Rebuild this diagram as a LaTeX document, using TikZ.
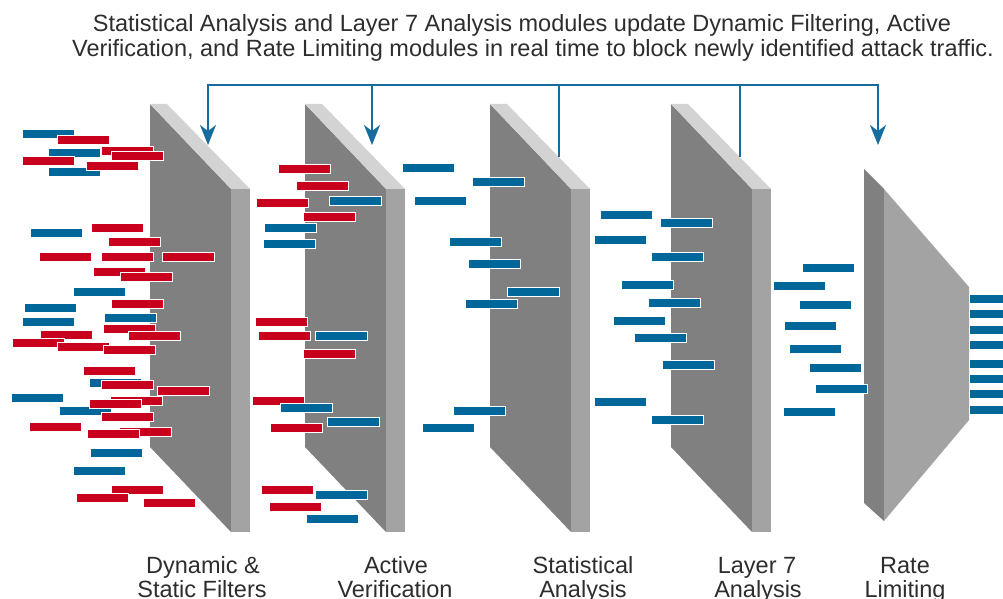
\documentclass[tikz,border=0pt]{standalone}
\usepackage{fontspec}
\setmainfont{Liberation Sans}
\usetikzlibrary{arrows.meta}
\definecolor{barred}{RGB}{200,0,30}
\definecolor{barblue}{RGB}{0,103,154}
\definecolor{linkblue}{RGB}{22,108,156}
\definecolor{facedark}{RGB}{128,128,128}
\definecolor{facebevel}{RGB}{211,211,211}
\definecolor{faceside}{RGB}{163,163,163}
\definecolor{txt}{RGB}{45,45,45}
\begin{document}
\begin{tikzpicture}[x=1pt,y=-1pt,
  redbar/.style={fill=barred,draw=white,line width=0.5pt},
  bluebar/.style={fill=barblue,draw=white,line width=0.5pt},
  darkface/.style={fill=facedark},
  bevelface/.style={fill=facebevel},
  sideface/.style={fill=faceside},
  link/.style={draw=linkblue,line width=2pt,line join=miter},
  tip/.style={-{Stealth[length=20pt,width=16pt,inset=6pt]}},
  txtstyle/.style={text=txt,font=\fontsize{23.5}{25}\selectfont,inner sep=0pt,anchor=base}]
\useasboundingbox (0,0) rectangle (1003,599);
% ---------- panels ----------
\foreach \L in {150,305,490,671}{
  \fill[darkface] (\L,104) -- (\L+81,189) -- (\L+81,532) -- (\L,447) -- cycle;
  \fill[bevelface] (\L,104) -- (\L+17,104) -- (\L+100,189) -- (\L+81,189) -- cycle;
  \fill[sideface] (\L+81,189) -- (\L+100,189) -- (\L+100,532) -- (\L+81,532) -- cycle;
}
% rate limiting funnel
\fill[darkface] (864,169) -- (884,189) -- (884,521) -- (864,503) -- cycle;
\fill[sideface] (884,189) -- (969,287) -- (969,420) -- (884,521) -- cycle;
% ---------- cluster 1 ----------
\foreach \x/\y in {22/129,48/148,48/167,30/228,73/287,24/303,104/313,22/317,89/378,11/393,59/406,90/448,73/466}
  \filldraw[bluebar] (\x,\y) rectangle ++(52,9);
\foreach \x/\y in {57/135,101/146,111/151,22/156,86/161,91/223,108/237,39/252,101/252,162/252,93/267,120/272,111/299,103/324,40/330,128/331,12/338,57/342,103/345,83/366,101/380,157/386,110/396,89/399,101/412,29/422,119/427,87/429,111/485,76/493,143/498}
  \filldraw[redbar] (\x,\y) rectangle ++(52,9);
% ---------- cluster 2 ----------
\foreach \x/\y in {278/164,296/181,256/198,303/212,255/317,258/331,303/349,252/396,270/423,261/485,269/502}
  \filldraw[redbar] (\x,\y) rectangle ++(52,9);
\foreach \x/\y in {329/196,264/223,263/239,315/331,280/403,327/417,315/490,306/514}
  \filldraw[bluebar] (\x,\y) rectangle ++(52,9);
% ---------- cluster 3 ----------
\foreach \x/\y in {402/163,472/177,414/196,449/237,468/259,507/287,465/299,453/406,422/423}
  \filldraw[bluebar] (\x,\y) rectangle ++(52,9);
% ---------- cluster 4 ----------
\foreach \x/\y in {600/210,660/218,594/235,651/252,621/280,648/298,613/316,634/333,662/360,594/397,651/415}
  \filldraw[bluebar] (\x,\y) rectangle ++(52,9);
% ---------- cluster 5 ----------
\foreach \x/\y in {802/263,773/281,799/300,784/321,789/344,809/363,815/384,783/407}
  \filldraw[bluebar] (\x,\y) rectangle ++(52,9);
% ---------- output ----------
\foreach \y in {294,309,325,340,359,374,389,405}
  \filldraw[bluebar] (969,\y) rectangle (1004,\y+9);
% ---------- feedback arrows ----------
\coordinate (h1) at (208,85);
\coordinate (h2) at (372,85);
\coordinate (h3) at (559,85);
\coordinate (h4) at (740,85);
\coordinate (h5) at (878,85);
\coordinate (a1) at (208,145);
\coordinate (a2) at (372,145);
\coordinate (b3) at (559,157);
\coordinate (b4) at (740,157);
\coordinate (a5) at (878,145);
\draw[link,{Stealth[length=20pt,width=16pt,inset=6pt]}-{Stealth[length=20pt,width=16pt,inset=6pt]}] (a1) -- (h1) -- (h5) -- (a5);
\draw[link,tip] (h2) -- (a2);
\draw[link] (h3) -- (b3);
\draw[link] (h4) -- (b4);
% ---------- texts ----------
\node[txtstyle] (t1) at (522,32) {Statistical Analysis and Layer 7 Analysis modules update Dynamic Filtering, Active};
\node[txtstyle] (t2) at (533,57) {Verification, and Rate Limiting modules in real time to block newly identified attack traffic.};
\node[txtstyle] (l1a) at (203,573) {Dynamic \&};
\node[txtstyle] (l1b) at (202,597) {Static Filters};
\node[txtstyle] (l2a) at (396,573) {Active};
\node[txtstyle] (l2b) at (395,597) {Verification};
\node[txtstyle] (l3a) at (583,573) {Statistical};
\node[txtstyle] (l3b) at (583,597) {Analysis};
\node[txtstyle] (l4a) at (757,573) {Layer 7};
\node[txtstyle] (l4b) at (758,597) {Analysis};
\node[txtstyle] (l5a) at (905,573) {Rate};
\node[txtstyle] (l5b) at (905,597) {Limiting};
\end{tikzpicture}
\end{document}
